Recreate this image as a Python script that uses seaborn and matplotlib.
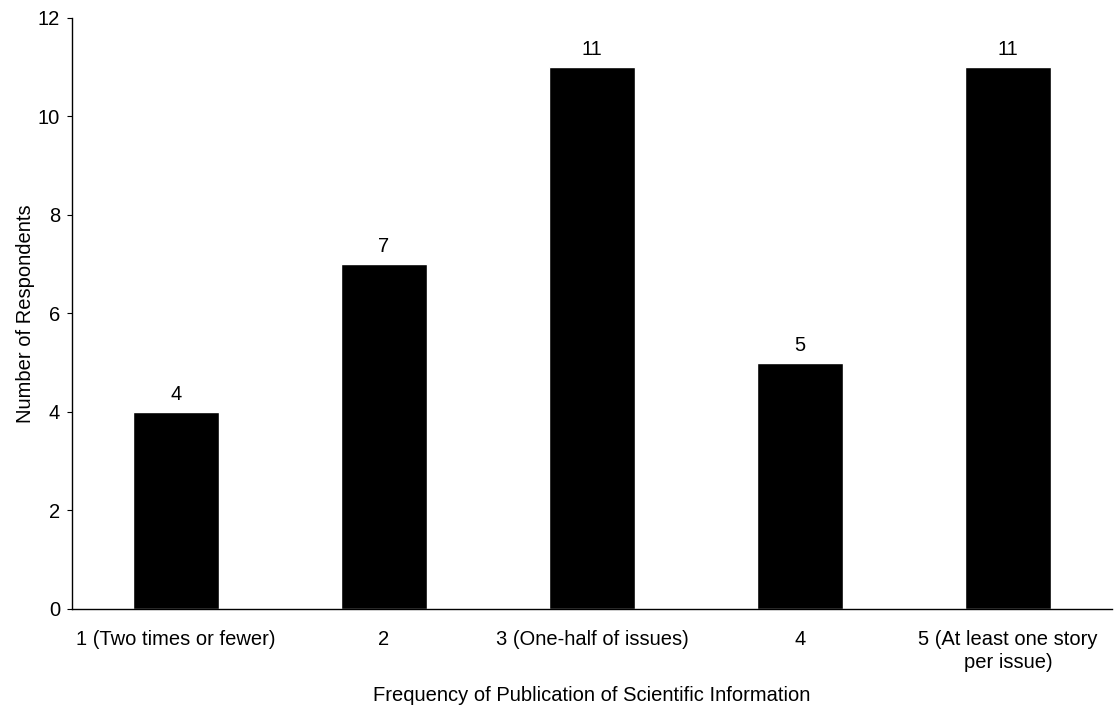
import matplotlib
matplotlib.use("Agg")
import matplotlib.pyplot as plt
import seaborn as sns
import numpy as np

categories = ["1 (Two times or fewer)", "2", "3 (One-half of issues)", "4",
              "5 (At least one story\nper issue)"]
respondents = [4, 7, 11, 5, 11]

sns.set_style("white")
plt.rcParams['font.family'] = ['Liberation Sans', 'DejaVu Sans']
plt.rcParams['text.color'] = 'black'
plt.rcParams['xtick.color'] = 'black'
plt.rcParams['ytick.color'] = 'black'
plt.rcParams['axes.labelcolor'] = 'black'

FS = 14.5

fig = plt.figure(figsize=(11.14, 7.11), dpi=100)
ax = fig.add_axes([0.0646, 0.1435, 0.9336, 0.8312])

sns.barplot(x=categories, y=respondents, color="black", width=0.41,
            saturation=1, ax=ax)

for i, v in enumerate(respondents):
    ax.text(i, v + 0.24, str(v), ha="center", va="baseline", fontsize=FS)

ax.set_xlim(-0.5, len(categories) - 0.5)
ax.set_ylim(0, 12)
ax.set_yticks(np.arange(0, 13, 2))

for s in ["top", "right"]:
    ax.spines[s].set_visible(False)
for s in ["left", "bottom"]:
    ax.spines[s].set_color("black")
    ax.spines[s].set_linewidth(1)

ax.set_xticks(np.arange(-0.5, len(categories), 1), minor=True)
ax.tick_params(axis="x", which="major", length=0, labelsize=FS, pad=15)
ax.tick_params(axis="x", which="minor", length=4.3, direction="out", color="black")
ax.tick_params(axis="y", length=3.6, direction="out", color="black", labelsize=FS,
               left=True, pad=5)
for lbl in ax.get_xticklabels():
    lbl.set_linespacing(1.3)

ax.set_xlabel("Frequency of Publication of Scientific Information", fontsize=FS)
ax.set_ylabel("Number of Respondents", fontsize=FS)
ax.xaxis.set_label_coords(0.5, -0.130)
ax.yaxis.set_label_coords(-0.036, 0.5)

fig.savefig("out.png", dpi=100)
